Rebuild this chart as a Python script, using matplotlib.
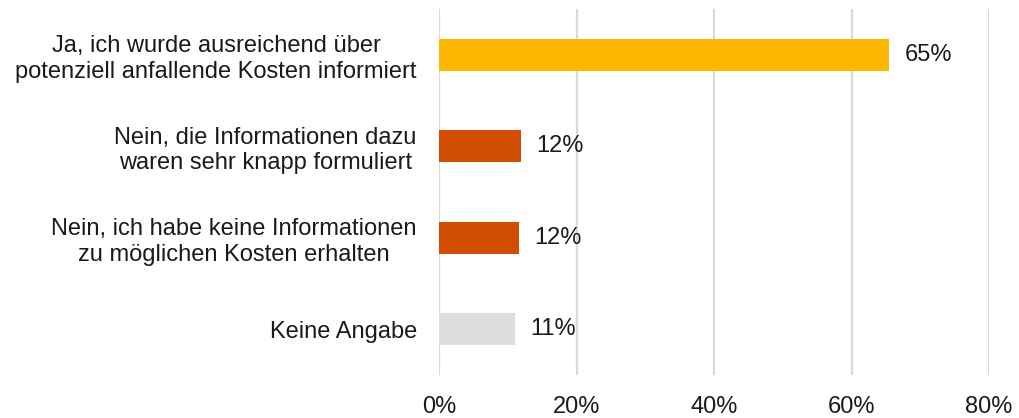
import matplotlib
matplotlib.use("Agg")
import matplotlib.pyplot as plt

categories = [
    "Ja, ich wurde ausreichend über\npotenziell anfallende Kosten informiert",
    "Nein, die Informationen dazu\nwaren sehr knapp formuliert",
    "Nein, ich habe keine Informationen\nzu möglichen Kosten erhalten",
    "Keine Angabe",
]
values = [65.4, 11.9, 11.6, 11.0]
value_labels = ["65%", "12%", "12%", "11%"]
colors = ["#FFB800", "#D14D00", "#D14D00", "#DDDDDD"]
xticks = [0, 20, 40, 60, 80]
xtick_labels = ["0%", "20%", "40%", "60%", "80%"]

plt.rcParams['font.family'] = ['Liberation Sans', 'DejaVu Sans']
FS = 17

fig = plt.figure(figsize=(10.19, 4.18), dpi=100)
ax = fig.add_axes([439/1019, 1-375/418, 550/1019, 366/418])

n = len(categories)
ypos = list(range(n - 1, -1, -1))
ax.barh(ypos, values, height=0.35, color=colors, zorder=3)
for y, v, lab in zip(ypos, values, value_labels):
    ax.text(v + 2.3, y, lab, va='center', ha='left', fontsize=FS, color='#1a1a1a')

ax.set_xlim(0, 80)
ax.set_ylim(-0.5, n - 0.5)
ax.set_xticks(xticks)
ax.set_xticklabels(xtick_labels, fontsize=FS, color='#1a1a1a')
ax.set_yticks(ypos)
ax.set_yticklabels(categories, fontsize=FS, color='#1a1a1a', multialignment='center')
ax.tick_params(axis='both', length=0)
ax.tick_params(axis='y', pad=16)
ax.tick_params(axis='x', pad=15)
ax.grid(axis='x', color='#D9D9D9', linewidth=1.6, zorder=0)
for s in ax.spines.values():
    s.set_visible(False)

fig.savefig("out.png", dpi=100)
